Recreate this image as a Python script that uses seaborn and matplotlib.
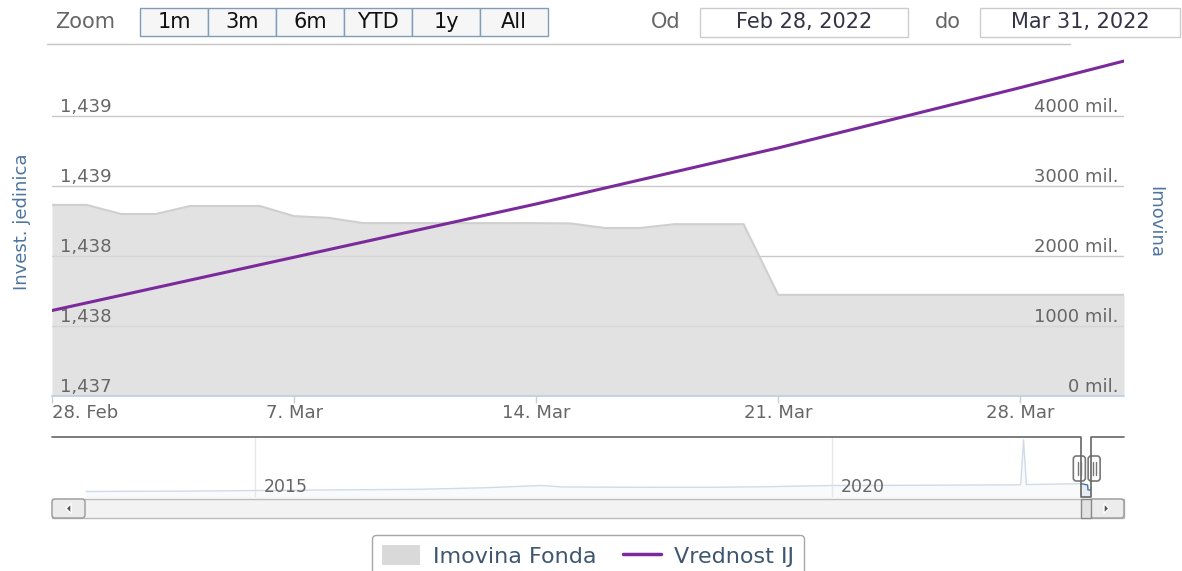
import numpy as np
import pandas as pd
import matplotlib
matplotlib.use('Agg')
import matplotlib.pyplot as plt
import matplotlib.dates as mdates
from matplotlib.patches import Rectangle, FancyBboxPatch, Patch, Polygon
from matplotlib.lines import Line2D
import seaborn as sns

sns.set_theme(style='white')
plt.rcParams['font.family'] = ['DejaVu Sans']

# Imovina Fonda (mil.), dnevno od 28.02. do 31.03.2022
dates = pd.date_range('2022-02-28', '2022-03-31', freq='D')
imovina = [2730, 2730, 2600, 2600, 2715, 2715, 2715, 2570, 2545, 2470,
           2470, 2470, 2470, 2470, 2470, 2465, 2400, 2400, 2455, 2455,
           2455, 1445, 1445, 1445, 1445, 1445, 1445, 1445, 1445, 1445,
           1445, 1445]

# Vrednost IJ
ij_dates = pd.to_datetime(['2022-02-28', '2022-03-07', '2022-03-14',
                           '2022-03-21', '2022-03-28', '2022-03-31'])
ij_values = [1.43761, 1.43799, 1.43837, 1.43877, 1.43920, 1.43939]

# navigator (cijeli period)
nav_dates = pd.to_datetime(['2013-07-15', '2014-06-01', '2015-01-01', '2015-09-01',
                            '2016-06-01', '2017-01-01', '2017-06-25', '2017-09-01',
                            '2018-06-01', '2019-01-01', '2019-06-01', '2020-01-01',
                            '2020-09-01', '2021-03-01', '2021-08-20', '2021-08-29',
                            '2021-09-07', '2022-02-28', '2022-03-20', '2022-03-21',
                            '2022-03-31'])
nav_values = [1130, 1200, 1330, 1450, 1580, 1900, 2360, 2050, 1990, 2000, 2100, 2360,
              2400, 2450, 2500, 11700, 2550, 2730, 2455, 1445, 1445]

x_ticks = pd.to_datetime(['2022-02-28', '2022-03-07', '2022-03-14', '2022-03-21', '2022-03-28'])
x_labels = ['28. Feb', '7. Mar', '14. Mar', '21. Mar', '28. Mar']
left_ticks = [1.4370, 1.4375, 1.4380, 1.4385, 1.4390]
left_labels = ['1,437', '1,438', '1,438', '1,439', '1,439']
right_ticks = [0, 1000, 2000, 3000, 4000]
right_labels = ['0 mil.', '1000 mil.', '2000 mil.', '3000 mil.', '4000 mil.']
nav_ticks = pd.to_datetime(['2015-01-01', '2020-01-01'])
nav_labels = ['2015', '2020']
zoom_buttons = ['1m', '3m', '6m', 'YTD', '1y', 'All']

purple = '#7b2a9c'
W, H = 1182, 571
fig = plt.figure(figsize=(W / 100, H / 100), dpi=100)

# glavni graf
ax = fig.add_axes([52 / W, 1 - 396 / H, 1072 / W, 349 / H])
ax2 = ax.twinx()
ax.set_zorder(2)
ax2.set_zorder(1)
ax.patch.set_visible(False)

ax2.fill_between(dates, imovina, color='#dadada', alpha=0.78, lw=0, zorder=1)
sns.lineplot(x=dates, y=imovina, ax=ax2, color='#cfcfcf', lw=1.5, zorder=2)
sns.lineplot(x=ij_dates, y=ij_values, ax=ax, color=purple, lw=2.2)

ax.set_xlim(dates[0], dates[-1])
ax.set_ylim(1.4370, 1.43949)
ax2.set_ylim(0, 4986)

ax2.set_yticks(right_ticks)
ax2.set_yticklabels([])
ax2.yaxis.grid(True, color='#c8c8c8', lw=1)
ax2.set_axisbelow(True)
ax2.tick_params(axis='y', length=0)
ax.set_yticks(left_ticks)
ax.set_yticklabels([])
ax.tick_params(axis='y', length=0)
ax.grid(False)

for v, lab in zip(left_ticks, left_labels):
    ax.annotate(lab, xy=(0, v), xycoords=('axes fraction', 'data'), xytext=(8, 4),
                textcoords='offset pixels', ha='left', va='baseline',
                fontsize=13, color='#666666')
for v, lab in zip(right_ticks, right_labels):
    ax2.annotate(lab, xy=(1, v), xycoords=('axes fraction', 'data'), xytext=(-6, 4),
                 textcoords='offset pixels', ha='right', va='baseline',
                 fontsize=13, color='#666666', zorder=5)

ax.set_xticks(x_ticks)
ax.set_xticklabels(x_labels)
ax.get_xticklabels()[0].set_ha('left')
ax.tick_params(axis='x', length=5, width=1, color='#c0d0e0', labelcolor='#666666',
               labelsize=13, pad=1, bottom=True)
ax.set_xlabel('')
ax2.set_xlabel('')

for s in ['left', 'right', 'top']:
    ax.spines[s].set_visible(False)
ax.spines['bottom'].set_color('#c0d0e0')
for s in ax2.spines.values():
    s.set_visible(False)

ax.set_ylabel('Invest. jedinica', color='#4d759e', fontsize=13,
              rotation=90, ha='center', va='center', rotation_mode='anchor')
ax.yaxis.set_label_coords(-30 / 1072, 0.5)
ax2.set_ylabel('Imovina', color='#4d759e', fontsize=13,
               rotation=270, ha='center', va='center', rotation_mode='anchor')
ax2.yaxis.set_label_coords(1 + 31 / 1072, 0.5)

# navigator
nav = fig.add_axes([52 / W, 1 - 497 / H, 1072 / W, 60 / H])
nav_left, nav_right = pd.Timestamp('2013-03-29'), pd.Timestamp('2022-07-13')
nav.fill_between(nav_dates, nav_values, color='#4572a7', alpha=0.12, lw=0)
sns.lineplot(x=nav_dates, y=nav_values, ax=nav, color='#4572a7', lw=1)
nav.set_xlim(nav_left, nav_right)
nav.set_ylim(0, 12300)
nav.set_xticks(nav_ticks)
nav.set_xticklabels([])
nav.set_yticks([])
nav.xaxis.grid(True, color='#a8a8a8', lw=1)
nav.tick_params(length=0)
nav.set_xlabel('')
nav.set_ylabel('')
for s in nav.spines.values():
    s.set_visible(False)
nav.axvspan(nav_left, dates[0], color='white', alpha=0.75, lw=0, zorder=3)
nav.axvspan(dates[-1], nav_right, color='white', alpha=0.75, lw=0, zorder=3)
for t, lab in zip(nav_ticks, nav_labels):
    nav.annotate(lab, xy=(t, 0), xycoords=('data', 'axes fraction'), xytext=(9, 5),
                 textcoords='offset pixels', ha='left', va='baseline',
                 fontsize=12.5, color='#666666', zorder=4)

fig.canvas.draw()
sel0 = nav.transData.transform((mdates.date2num(dates[0]), 0))[0]
sel1 = nav.transData.transform((mdates.date2num(dates[-1]), 0))[0]

# elementi sucelja u pikselima
ui = fig.add_axes([0, 0, 1, 1], zorder=5)
ui.set_xlim(0, W)
ui.set_ylim(H, 0)
ui.axis('off')
ui.patch.set_visible(False)

ui.text(55, 22, 'Zoom', fontsize=15, color='#666666', ha='left', va='center')
for i, lab in enumerate(zoom_buttons):
    x0 = 140 + 68 * i
    ui.add_patch(Rectangle((x0, 8), 68, 28, fc='#f6f6f6', ec='#7f9db9', lw=1))
    ui.text(x0 + 34, 22, lab, fontsize=15, color='#111111', ha='center', va='center')
ui.text(666, 22, 'Od', fontsize=15, color='#666666', ha='center', va='center')
ui.add_patch(Rectangle((700, 8), 208, 29, fc='white', ec='#cccccc', lw=1))
ui.text(804, 22, 'Feb 28, 2022', fontsize=15, color='#333344', ha='center', va='center')
ui.text(948, 22, 'do', fontsize=15, color='#666666', ha='center', va='center')
ui.add_patch(Rectangle((980, 8), 200, 29, fc='white', ec='#cccccc', lw=1))
ui.text(1080, 22, 'Mar 31, 2022', fontsize=15, color='#333344', ha='center', va='center')
ui.plot([47, 1070], [44, 44], color='#c4c4c4', lw=1)

# obrub navigatora
ui.plot([52, sel0, sel0, sel1, sel1, 1124], [437, 437, 497, 497, 437, 437],
        color='#666666', lw=1.2)

# scrollbar
ui.add_patch(Rectangle((52, 499), 1072, 19, fc='#f3f3f3', ec='#bbbbbb', lw=1))
ui.add_patch(FancyBboxPatch((52, 499), 33, 19, boxstyle='round,pad=0,rounding_size=3',
                            fc='#ececec', ec='#999999', lw=1))
ui.add_patch(FancyBboxPatch((1090, 499), 34, 19, boxstyle='round,pad=0,rounding_size=3',
                            fc='#ececec', ec='#999999', lw=1))
ui.add_patch(Polygon([[71, 503.5], [71, 513.5], [66, 508.5]], closed=True, fc='#555555'))
ui.add_patch(Polygon([[1104, 503.5], [1104, 513.5], [1109, 508.5]], closed=True, fc='#555555'))
ui.add_patch(Rectangle((sel0, 499), sel1 - sel0, 19, fc='#e2e2e2', ec='#888888', lw=1))

# rucke
for cx in (sel0 - 2, sel1 + 3):
    ui.add_patch(FancyBboxPatch((cx - 6, 456), 12, 25, boxstyle='round,pad=0,rounding_size=3',
                                fc='white', ec='#777777', lw=1.2))
    ui.plot([cx - 1.5, cx - 1.5], [462, 475], color='#777777', lw=1)
    ui.plot([cx + 1.5, cx + 1.5], [462, 475], color='#777777', lw=1)

# legenda
handles = [Patch(facecolor='#d9d9d9', edgecolor='none'),
           Line2D([], [], color=purple, lw=2.5)]
leg = fig.legend(handles, ['Imovina Fonda', 'Vrednost IJ'], loc='upper center',
                 bbox_to_anchor=(588 / W, 1 - 535 / H), ncol=2, frameon=True,
                 fancybox=True, fontsize=16, handlelength=1.7, handleheight=1.0,
                 columnspacing=1.2, handletextpad=0.6, borderpad=0.45,
                 borderaxespad=0, labelcolor='#3e576f')
leg.get_frame().set_edgecolor('#909090')
leg.get_frame().set_linewidth(1)

fig.savefig('out.png', dpi=100)
